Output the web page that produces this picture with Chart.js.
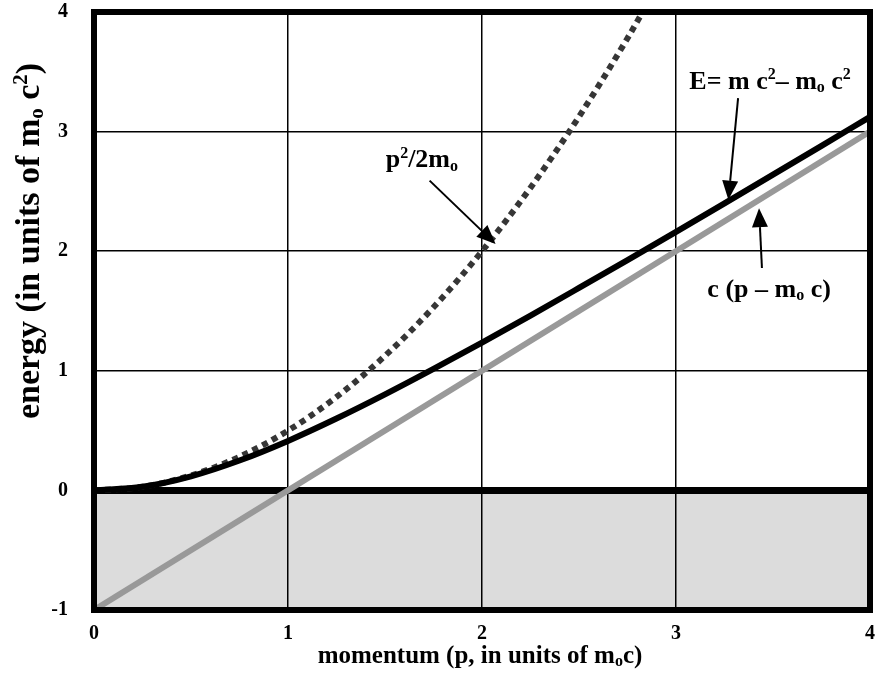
<!DOCTYPE html>
<html>
<head>
<meta charset="utf-8">
<script src="https://cdn.jsdelivr.net/npm/chart.js@4/dist/chart.umd.min.js"></script>
<style>
  html, body { margin: 0; padding: 0; background: #fff; }
  #wrap { width: 877px; height: 677px; }
</style>
</head>
<body>
<div id="wrap"><canvas id="c" width="877" height="677"></canvas></div>
<script>
// Momentum grid (units of m0 c)
const momentum = [0, 0.25, 0.5, 0.75, 1, 1.25, 1.5, 1.75, 2, 2.25, 2.5, 2.75, 3, 3.25, 3.5, 3.75, 4];
// Relativistic kinetic energy  E = m c^2 - m0 c^2
const kineticEnergy = [0, 0.031, 0.118, 0.25, 0.414, 0.601, 0.803, 1.016, 1.236, 1.462, 1.693, 1.926, 2.162, 2.4, 2.64, 2.881, 3.123];
// Classical kinetic energy  p^2 / 2 m0
const classicalMomentum = [0, 0.25, 0.5, 0.75, 1, 1.25, 1.5, 1.75, 2, 2.25, 2.5, 2.75, 3];
const classicalEnergy = [0, 0.031, 0.125, 0.281, 0.5, 0.781, 1.125, 1.531, 2, 2.531, 3.125, 3.781, 4.5];
// Ultra-relativistic asymptote  c (p - m0 c)
const asymptoteMomentum = [0, 4];
const asymptoteEnergy = [-1, 3];
// Axis ranges and tick values
const xTicks = [0, 1, 2, 3, 4];
const yTicks = [-1, 0, 1, 2, 3, 4];
// Shaded negative-energy band
const bandRange = [-1, 0];

const FAMILY = '"Liberation Serif", "Times New Roman", Times, serif';

const pairs = (xs, ys) => xs.map((x, i) => ({ x, y: ys[i] }));

// Draw a run of text segments, some raised (sup) or lowered (sub)
function richText(ctx, segs, x, y, size, align) {
  const small = Math.round(size * 0.62);
  const fontFor = s => `bold ${(s.sup || s.sub) ? small : size}px ${FAMILY}`;
  const widths = segs.map(s => { ctx.font = fontFor(s); return ctx.measureText(s.t).width; });
  const total = widths.reduce((a, b) => a + b, 0);
  let cx = align === 'left' ? x : x - total / 2;
  ctx.textAlign = 'left';
  ctx.textBaseline = 'alphabetic';
  segs.forEach((s, i) => {
    ctx.font = fontFor(s);
    const dy = s.sup ? -size * 0.36 : (s.sub ? size * 0.12 : 0);
    ctx.fillText(s.t, cx, y + dy);
    cx += widths[i];
  });
  return total;
}

function arrow(ctx, x1, y1, x2, y2) {
  const ang = Math.atan2(y2 - y1, x2 - x1);
  const len = 19, half = 8;
  const bx = x2 - len * Math.cos(ang), by = y2 - len * Math.sin(ang);
  ctx.strokeStyle = '#000';
  ctx.lineWidth = 2;
  ctx.beginPath();
  ctx.moveTo(x1, y1);
  ctx.lineTo(bx, by);
  ctx.stroke();
  ctx.fillStyle = '#000';
  ctx.beginPath();
  ctx.moveTo(x2, y2);
  ctx.lineTo(bx + half * Math.sin(ang), by - half * Math.cos(ang));
  ctx.lineTo(bx - half * Math.sin(ang), by + half * Math.cos(ang));
  ctx.closePath();
  ctx.fill();
}

// Curve labels, anchored in data coordinates
const labels = [
  { segs: [{ t: 'p' }, { t: '2', sup: true }, { t: '/2m' }, { t: 'o', sub: true }], at: [1.69, 2.70], from: [1.73, 2.59], to: [2.07, 2.06] },
  { segs: [{ t: 'E= m c' }, { t: '2', sup: true }, { t: '\u2013 m' }, { t: 'o', sub: true }, { t: ' c' }, { t: '2', sup: true }], at: [3.485, 3.36], from: [3.32, 3.28], to: [3.27, 2.43] },
  { segs: [{ t: 'c (p \u2013 m' }, { t: 'o', sub: true }, { t: ' c)' }], at: [3.48, 1.62], from: [3.443, 1.86], to: [3.428, 2.36] }
];

const decor = {
  id: 'decor',
  beforeDraw(chart) {
    const { ctx, chartArea: a, scales: { y } } = chart;
    ctx.save();
    ctx.fillStyle = '#dcdcdc';
    const yTop = y.getPixelForValue(bandRange[1]);
    const yBot = y.getPixelForValue(bandRange[0]);
    ctx.fillRect(a.left, yTop, a.right - a.left, yBot - yTop);
    ctx.restore();
  },
  afterDatasetsDraw(chart) {
    const { ctx, chartArea: a } = chart;
    ctx.save();
    ctx.strokeStyle = '#000';
    ctx.lineWidth = 6;
    ctx.strokeRect(a.left, a.top, a.right - a.left, a.bottom - a.top);
    ctx.restore();
  },
  afterDraw(chart) {
    const { ctx, scales: { x, y } } = chart;
    ctx.save();
    ctx.fillStyle = '#000';
    labels.forEach(l => {
      richText(ctx, l.segs, x.getPixelForValue(l.at[0]), y.getPixelForValue(l.at[1]), 26, 'center');
      arrow(ctx, x.getPixelForValue(l.from[0]), y.getPixelForValue(l.from[1]),
                 x.getPixelForValue(l.to[0]), y.getPixelForValue(l.to[1]));
    });
    // Axis titles
    ctx.fillStyle = '#000';
    richText(ctx, [{ t: 'momentum (p, in units of m' }, { t: 'o', sub: true }, { t: 'c)' }], 480, 663, 25, 'center');
    ctx.translate(39, 241);
    ctx.rotate(-Math.PI / 2);
    richText(ctx, [{ t: 'energy (in units of m' }, { t: 'o', sub: true }, { t: ' c' }, { t: '2', sup: true }, { t: ')' }], 0, 0, 34, 'center');
    ctx.restore();
  }
};

const tickFont = { family: FAMILY, size: 20, weight: 'bold' };

const noPad = s => { s.paddingTop = 0; s.paddingBottom = 0; s.paddingLeft = 0; s.paddingRight = 0; };

new Chart(document.getElementById('c'), {
  type: 'line',
  data: {
    datasets: [
      {
        label: 'E = m c\u00b2 \u2013 m\u2080 c\u00b2',
        data: pairs(momentum, kineticEnergy),
        borderColor: '#000',
        borderWidth: 6,
        pointRadius: 0,
        cubicInterpolationMode: 'monotone',
        order: 0
      },
      {
        label: 'c (p \u2013 m\u2080 c)',
        data: pairs(asymptoteMomentum, asymptoteEnergy),
        borderColor: '#999999',
        borderWidth: 6,
        pointRadius: 0,
        order: 1
      },
      {
        label: 'p\u00b2/2m\u2080',
        data: pairs(classicalMomentum, classicalEnergy),
        borderColor: '#363636',
        borderWidth: 6,
        borderDash: [6, 5],
        borderCapStyle: 'butt',
        pointRadius: 0,
        cubicInterpolationMode: 'monotone',
        order: 2
      }
    ]
  },
  options: {
    responsive: false,
    animation: false,
    devicePixelRatio: 1,
    layout: { autoPadding: false, padding: { top: 12, right: 7, left: 0, bottom: 0 } },
    plugins: { legend: { display: false }, tooltip: { enabled: false } },
    scales: {
      x: {
        type: 'linear',
        min: xTicks[0],
        max: xTicks[xTicks.length - 1],
        afterBuildTicks: s => { s.ticks = xTicks.map(v => ({ value: v })); },
        afterFit: s => { s.height = 67; noPad(s); },
        ticks: { font: tickFont, color: '#000', padding: 12, maxRotation: 0 },
        grid: { color: '#000', lineWidth: 1.5, drawTicks: false },
        border: { display: false }
      },
      y: {
        type: 'linear',
        min: yTicks[0],
        max: yTicks[yTicks.length - 1],
        afterBuildTicks: s => { s.ticks = yTicks.map(v => ({ value: v })); },
        afterFit: s => { s.width = 94; noPad(s); },
        ticks: { font: tickFont, color: '#000', padding: 26 },
        grid: {
          color: '#000',
          lineWidth: c => (c.tick && c.tick.value === 0 ? 7 : 1.5),
          drawTicks: false
        },
        border: { display: false }
      }
    }
  },
  plugins: [decor]
});
</script>
</body>
</html>
